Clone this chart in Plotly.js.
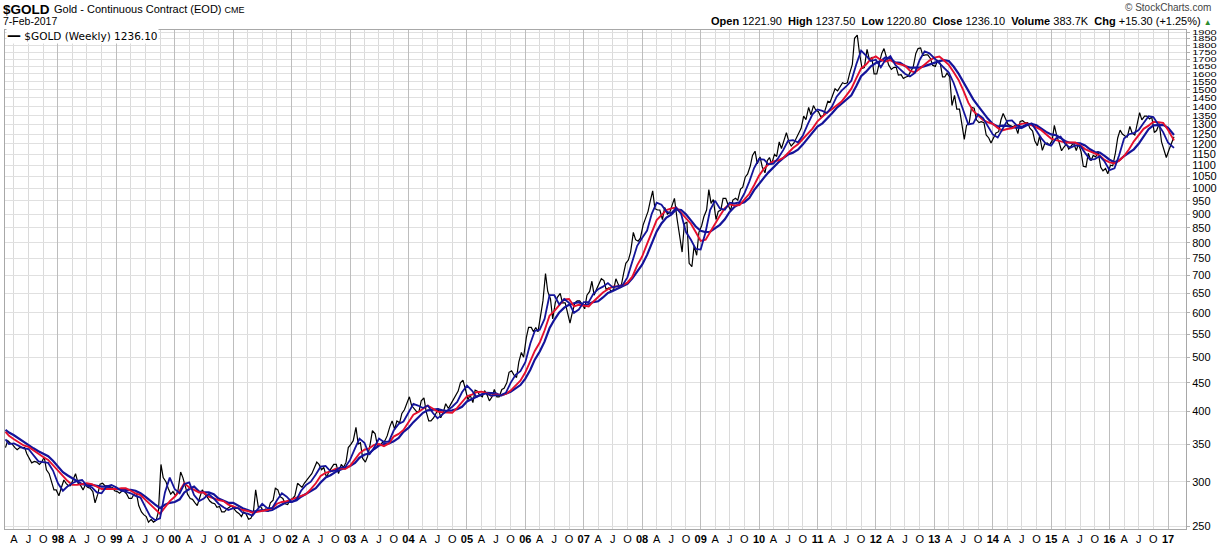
<!DOCTYPE html>
<html>
<head>
<meta charset="utf-8">
<script src="https://cdn.plot.ly/plotly-3.0.1.min.js"></script>
<style>
  html, body { margin: 0; padding: 0; background: #ffffff; }
  #chart { width: 1217px; height: 546px; }
</style>
</head>
<body>
<div id="chart"></div>
<script>
// ---------------- DATA ----------------
// Weekly gold closes, sampled twice a month (about the 7th and the 21st).
const gold1997 = [345,355, 352,350, 345,342, 345,345, 345,336, 330,324, 326,325, 322,325, 332,315, 310,300, 290,290]; // from Feb
const gold1998 = [283,292, 302,298, 295,295, 302,310, 298,296, 290,296, 293,292, 288,275, 285,297, 298,295, 295,294, 293,289];
const gold1999 = [288,286, 289,288, 285,280, 280,285, 286,272, 265,262, 260,254, 257,254, 256,265, 322,305, 300,292, 285,288];
const gold2000 = [283,289, 312,305, 293,285, 280,279, 275,272, 282,290, 285,282, 277,275, 274,270, 271,265, 265,268, 270,272];
const gold2001 = [268,265, 263,260, 265,263, 257,258, 265,290, 270,271, 266,268, 266,275, 278,292, 290,282, 280,274, 273,278];
const gold2002 = [280,283, 298,295, 293,298, 303,306, 310,317, 325,322, 315,318, 305,312, 318,322, 322,310, 322,318, 325,345];
const gold2003 = [350,355, 375,350, 352,330, 325,333, 350,370, 365,348, 348,352, 355,362, 376,385, 372,385, 382,397, 403,412];
const gold2004 = [425,410, 405,400, 400,418, 423,400, 385,385, 390,397, 405,390, 400,413, 405,412, 420,425, 435,450, 455,440];
const gold2005 = [420,428, 415,437, 435,428, 425,436, 428,418, 425,438, 425,425, 438,440, 450,470, 473,465, 460,490, 510,500];
const gold2006 = [542,565, 565,555, 565,555, 590,630, 705,655, 635,585, 625,640, 650,625, 625,600, 575,600, 625,630, 630,622];
const gold2007 = [610,645, 655,683, 645,660, 678,690, 685,660, 665,655, 660,690, 672,665, 705,735, 745,770, 835,810, 805,815];
const gold2008 = [860,882, 910,950, 990,920, 915,915, 880,925, 900,905, 930,960, 880,830, 770,865, 870,735, 725,790, 760,835];
const gold2009 = [858,890, 915,995, 940,955, 880,910, 915,960, 960,935, 913,953, 960,953, 997,1005, 1048,1060, 1096,1145, 1165,1106];
const gold2010 = [1138,1092, 1066,1120, 1135,1105, 1150,1140, 1210,1178, 1220,1257, 1210,1190, 1205,1228, 1250,1280, 1345,1326, 1395,1352, 1405,1380];
const gold2011 = [1370,1343, 1348,1389, 1430,1425, 1467,1505, 1492,1512, 1543,1537, 1543,1602, 1663,1852, 1876,1740, 1636,1642, 1770,1700, 1712,1600];
const gold2012 = [1600,1665, 1740,1775, 1710,1660, 1630,1642, 1645,1592, 1595,1570, 1580,1585, 1620,1642, 1740,1775, 1780,1725, 1730,1730, 1705,1658];
const gold2013 = [1650,1690, 1670,1580, 1580,1605, 1580,1405, 1465,1385, 1385,1298, 1223,1295, 1310,1395, 1390,1325, 1310,1315, 1310,1245, 1230,1205];
const gold2014 = [1237,1255, 1262,1324, 1360,1335, 1300,1294, 1288,1295, 1252,1316, 1320,1310, 1310,1280, 1265,1215, 1192,1240, 1169,1200, 1205,1195];
const gold2015 = [1215,1295, 1234,1205, 1167,1184, 1200,1175, 1190,1205, 1168,1200, 1163,1095, 1092,1155, 1120,1145, 1138,1165, 1090,1075, 1085,1062];
const gold2016 = [1100,1097, 1158,1230, 1270,1250, 1240,1235, 1290,1255, 1245,1295, 1365,1325, 1345,1345, 1330,1340, 1258,1268, 1305,1210, 1175,1135];
const gold2017 = [1172,1205, 1236];

// Moving averages: one value per month (Feb 1997 .. Jan 2017) + last bar (7-Feb-2017).
const maFast = [ // thin blue
  357,350,351,347,344,343,334,326,325,324,314,
  298,289,294,298,301,302,295,293,287,286,294,296,
  293,289,288,286,283,281,271,260,256,258,287,305,
  291,286,297,299,284,277,280,285,280,274,270,267,
  269,269,264,263,261,268,274,269,269,278,286,282,
  276,279,289,296,300,309,319,320,313,314,318,318,
  328,344,358,352,335,345,358,353,354,370,380,384,
  399,413,410,406,410,398,389,396,402,408,416,433,
  445,436,425,429,431,427,427,428,432,450,465,472,
  490,529,557,560,585,645,645,621,635,625,600,608,
  627,627,648,661,668,678,666,668,672,694,739,790,
  816,841,901,943,935,909,903,924,900,836,810,780,
  778,836,915,951,921,916,943,940,945,979,1028,1087,
  1128,1125,1104,1107,1133,1170,1216,1219,1208,1241,1300,1355,
  1383,1375,1363,1398,1457,1494,1521,1556,1665,1760,1724,1687,
  1696,1644,1695,1721,1661,1627,1601,1583,1607,1694,1755,1741,
  1706,1676,1648,1609,1543,1459,1383,1300,1306,1355,1335,1295,
  1248,1232,1270,1320,1322,1294,1288,1300,1305,1268,1228,1200,
  1192,1228,1237,1198,1182,1193,1191,1157,1126,1128,1142,1117,
  1078,1086,1146,1227,1249,1255,1271,1308,1345,1340,1299,1260,
  1206,1181
];
const maMid = [ // red
  368,362,357,352,348,346,341,336,332,328,321,
  314,306,301,296,296,297,298,297,294,291,291,291,
  291,292,292,289,286,284,279,273,268,263,270,277,
  282,289,298,293,290,287,287,282,280,278,277,273,
  271,269,267,266,264,265,266,267,269,274,276,277,
  279,281,283,285,291,298,307,311,313,316,317,316,
  320,329,337,342,344,349,350,347,351,361,365,371,
  383,395,399,405,410,405,400,399,399,398,406,416,
  426,429,433,434,432,427,429,428,430,436,445,454,
  470,493,513,531,558,593,604,619,634,635,616,620,
  618,616,628,641,652,661,668,669,672,679,696,729,
  756,796,838,878,896,915,921,924,904,885,865,836,
  806,810,837,866,894,922,937,932,934,955,978,1013,
  1054,1085,1104,1117,1122,1133,1158,1180,1199,1223,1251,1278,
  1317,1345,1365,1384,1406,1428,1465,1506,1572,1636,1663,1702,
  1719,1694,1684,1693,1673,1666,1656,1621,1610,1634,1661,1691,
  1711,1718,1692,1660,1612,1561,1495,1422,1374,1347,1325,1312,
  1304,1282,1269,1276,1280,1295,1303,1307,1297,1285,1270,1250,
  1227,1219,1215,1207,1208,1207,1193,1175,1164,1153,1144,1124,
  1113,1108,1120,1142,1173,1213,1247,1277,1294,1314,1312,1309,
  1271,1218
];
const maSlow = [ // thick blue
  371,367,363,358,354,349,344,340,337,333,327,
  319,312,308,304,301,297,296,296,295,294,294,292,
  291,291,290,290,289,286,282,277,273,269,273,275,
  276,279,287,291,294,288,287,287,285,280,277,275,
  275,272,269,267,265,266,267,266,267,270,273,276,
  276,278,282,285,288,292,299,305,308,312,315,317,
  320,324,331,335,337,343,348,350,351,354,359,368,
  374,383,391,398,402,403,404,402,401,402,404,408,
  417,421,425,429,432,432,431,427,430,434,440,446,
  458,475,495,512,533,563,583,601,613,620,624,627,
  619,622,627,629,639,651,656,663,669,676,691,711,
  731,761,797,838,866,887,898,917,915,899,877,855,
  840,836,837,850,861,881,908,927,939,945,961,993,
  1021,1045,1068,1091,1112,1132,1149,1158,1172,1197,1228,1260,
  1289,1306,1330,1360,1391,1415,1439,1465,1522,1585,1615,1651,
  1673,1686,1712,1702,1677,1674,1653,1642,1642,1642,1652,1665,
  1674,1686,1693,1687,1649,1602,1547,1487,1441,1403,1363,1332,
  1303,1289,1294,1293,1284,1281,1282,1296,1303,1296,1277,1261,
  1248,1244,1230,1213,1205,1203,1203,1193,1174,1161,1158,1143,
  1125,1113,1122,1142,1157,1174,1201,1240,1275,1295,1295,1298,
  1282,1245
];

// Axis labels
const yTicks = [250,300,350,400,450,500,550,600,650,700,750,800,850,900,950,1000,1050,1100,1150,1200,
                1250,1300,1350,1400,1450,1500,1550,1600,1650,1700,1750,1800,1850,1900];
const monthLetters = ['A','J','O'];
const yearLabels = ['98','99','00','01','02','03','04','05','06','07','08','09','10','11','12','13','14','15','16','17'];

// ---------------- build series ----------------
function pad(n){ return (n < 10 ? '0' : '') + n; }
const closeYears = [
  [1997, 2, gold1997],[1998,1,gold1998],[1999,1,gold1999],[2000,1,gold2000],[2001,1,gold2001],
  [2002,1,gold2002],[2003,1,gold2003],[2004,1,gold2004],[2005,1,gold2005],[2006,1,gold2006],
  [2007,1,gold2007],[2008,1,gold2008],[2009,1,gold2009],[2010,1,gold2010],[2011,1,gold2011],
  [2012,1,gold2012],[2013,1,gold2013],[2014,1,gold2014],[2015,1,gold2015],[2016,1,gold2016],[2017,1,gold2017]
];
const closeX = [], closeY = [];
closeYears.forEach(([yr, m0, arr]) => {
  arr.forEach((v, i) => {
    const m = m0 + Math.floor(i / 2);
    const d = (i % 2 === 0) ? '07' : '21';
    closeX.push(yr + '-' + pad(m) + '-' + d);
    closeY.push(v);
  });
});

const maX = [];
for (let k = 0; k < maFast.length; k++) {
  const tot = 1 + k;
  const yr = 1997 + Math.floor(tot / 12);
  const m = (tot % 12) + 1;
  const last = (k === maFast.length - 1);
  const day = (k === 0 || last) ? '07' : '01';
  maX.push(yr + '-' + pad(m) + '-' + day);
}

const qVals = [], qText = [], yrVals = [];
for (let yr = 1997; yr <= 2017; yr++) {
  [1,4,7,10].forEach((m, qi) => {
    const d = yr + '-' + pad(m) + '-01';
    if (d < '1997-04-01' || d > '2017-01-01') return;
    qVals.push(d);
    if (m === 1) { qText.push('<b>' + yearLabels[yr - 1998] + '</b>'); yrVals.push(d); }
    else qText.push(monthLetters[qi - 1]);
  });
}

const BLUE = '#14149a';
const RED = '#e5102e';

const traces = [
  {x: closeX, y: closeY, type: 'scatter', mode: 'lines', line: {color: '#000000', width: 1.2}, hoverinfo: 'skip', xaxis: 'x', yaxis: 'y'},
  {x: maX, y: maSlow, type: 'scatter', mode: 'lines', line: {color: BLUE, width: 2.2}, hoverinfo: 'skip', xaxis: 'x2', yaxis: 'y'},
  {x: maX, y: maMid, type: 'scatter', mode: 'lines', line: {color: RED, width: 1.9}, hoverinfo: 'skip', xaxis: 'x2', yaxis: 'y'},
  {x: maX, y: maFast, type: 'scatter', mode: 'lines', line: {color: BLUE, width: 1.8}, hoverinfo: 'skip', xaxis: 'x2', yaxis: 'y'}
];

const L = 5, R = 1186, T = 30, B = 529;
const px = x => (x - L) / (R - L);
const py = y => (B - y) / (B - T);

const FONT = 'Arial, "Liberation Sans", sans-serif';
const xRange = ['1997-02-04', '2017-04-23'];

const layout = {
  width: 1217, height: 546,
  margin: {l: L, r: 1217 - R, t: T, b: 546 - B, pad: 0},
  paper_bgcolor: '#ffffff', plot_bgcolor: '#ffffff',
  showlegend: false,
  font: {family: FONT, size: 11, color: '#000'},
  xaxis: {
    type: 'date', range: xRange, tickmode: 'array', tickvals: qVals, ticktext: qText, tickangle: 0,
    showgrid: true, gridcolor: '#dadada', gridwidth: 1,
    showline: true, linecolor: '#a8a8a8', linewidth: 1, mirror: true,
    ticks: '', zeroline: false, fixedrange: true,
    tickfont: {family: FONT, size: 11, color: '#000'}
  },
  xaxis2: {
    type: 'date', range: xRange, overlaying: 'x', tickmode: 'array', tickvals: yrVals,
    showgrid: true, gridcolor: '#bdbdbd', gridwidth: 1, showticklabels: false, ticks: '',
    showline: false, zeroline: false, fixedrange: true
  },
  yaxis: {
    type: 'log', side: 'right', range: [Math.log10(247), Math.log10(1916)],
    tickmode: 'array', tickvals: yTicks, ticktext: yTicks.map(String),
    showgrid: true, gridcolor: '#e0e0e0', gridwidth: 1,
    showline: true, linecolor: '#a8a8a8', linewidth: 1, mirror: true,
    ticks: 'outside', ticklen: 3, tickcolor: '#b0b0b0', zeroline: false, fixedrange: true,
    tickfont: {family: FONT, size: 11, color: '#000'}
  },
  annotations: [
    {xref: 'paper', yref: 'paper', x: px(1), y: py(9), xanchor: 'left', yanchor: 'middle', showarrow: false,
     text: '<b>$GOLD</b>', font: {family: FONT, size: 13.5, color: '#000'}},
    {xref: 'paper', yref: 'paper', x: px(52), y: py(9), xanchor: 'left', yanchor: 'middle', showarrow: false,
     text: 'Gold - Continuous Contract (EOD) <span style="font-size:9px">CME</span>', font: {family: FONT, size: 11, color: '#000'}},
    {xref: 'paper', yref: 'paper', x: px(1), y: py(21.5), xanchor: 'left', yanchor: 'middle', showarrow: false,
     text: '7-Feb-2017', font: {family: FONT, size: 10.5, color: '#000'}},
    {xref: 'paper', yref: 'paper', x: px(1213), y: py(7), xanchor: 'right', yanchor: 'middle', showarrow: false,
     text: '© StockCharts.com', font: {family: FONT, size: 10, color: '#444'}},
    {xref: 'paper', yref: 'paper', x: px(1214), y: py(21), xanchor: 'right', yanchor: 'middle', showarrow: false,
     text: '<b>Open</b> 1221.90  <b>High</b> 1237.50  <b>Low</b> 1220.80  <b>Close</b> 1236.10  <b>Volume</b> 383.7K  <b>Chg</b> +15.30 (+1.25%) <span style="color:#2e8b2e;font-size:8px">▲</span>',
     font: {family: FONT, size: 11, color: '#000'}},
    {xref: 'paper', yref: 'paper', x: px(6), y: py(35.5), xanchor: 'left', yanchor: 'middle', showarrow: false,
     text: '<span style="font-size:14px"><b>—</b></span> $GOLD (Weekly) 1236.10', bgcolor: '#ffffff', borderpad: 0,
     font: {family: '"DejaVu Sans", Verdana, sans-serif', size: 10.5, color: '#000'}}
  ]
};

Plotly.newPlot('chart', traces, layout, {staticPlot: true, displayModeBar: false}).then(gd => {
  // StockCharts squeezes the crowded upper price labels vertically so they fit their spacing.
  const ya = gd._fullLayout.yaxis;
  const labels = Array.from(gd.querySelectorAll('.ytick text'));
  labels.forEach(t => {
    const v = parseFloat(t.textContent);
    const idx = yTicks.indexOf(v);
    if (idx < 0) return;
    const yHere = ya.l2p(Math.log10(v));
    const yUp = idx < yTicks.length - 1 ? ya.l2p(Math.log10(yTicks[idx + 1])) : yHere - 7;
    const gap = Math.abs(yHere - yUp);
    const s = Math.min(1, (gap - 0.5) / 9.5);
    if (s >= 1) return;
    const bb = t.getBBox();
    const cy = bb.y + bb.height / 2;
    const prev = t.getAttribute('transform') || '';
    t.setAttribute('transform', prev + ' translate(0,' + cy + ') scale(1,' + s.toFixed(3) + ') translate(0,' + (-cy) + ')');
  });
});
</script>
</body>
</html>
